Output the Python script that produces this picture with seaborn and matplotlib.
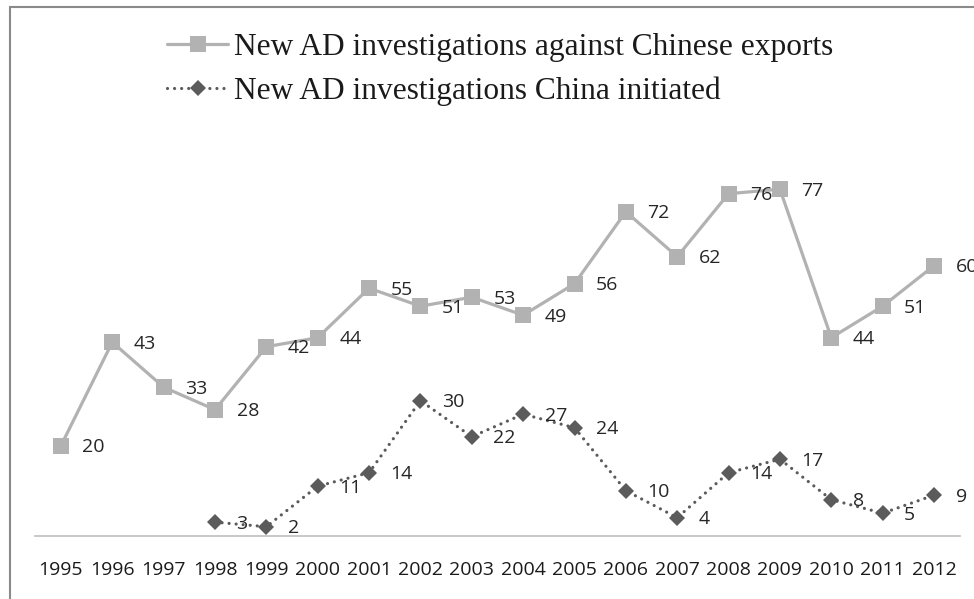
import numpy as np
import pandas as pd
import seaborn as sns
import matplotlib.pyplot as plt
from matplotlib.patches import Rectangle

# data
years = list(range(1995, 2013))
against_china = [20, 43, 33, 28, 42, 44, 55, 51, 53, 49, 56, 72, 62, 76, 77, 44, 51, 60]
china_years = list(range(1998, 2013))
china_initiated = [3, 2, 11, 14, 30, 22, 27, 24, 10, 4, 14, 17, 8, 5, 9]

label1 = 'New AD investigations against Chinese exports'
label2 = 'New AD investigations China initiated'

sns.set_style('white')
plt.rcParams['font.family'] = ['Open Sans', 'DejaVu Sans']

df1 = pd.DataFrame({'pos': [years.index(y) for y in years], 'value': against_china})
df2 = pd.DataFrame({'pos': [years.index(y) for y in china_years], 'value': china_initiated})

fig = plt.figure(figsize=(9.74, 5.99), dpi=100)
ax = fig.add_axes([0.0362, 0.1057, 0.9491, 0.6761])

sns.lineplot(data=df1, x='pos', y='value', ax=ax, color='#b2b2b2', lw=2.3,
             marker='s', markersize=12, markeredgewidth=0, label=label1)
sns.lineplot(data=df2, x='pos', y='value', ax=ax, color='#5b5b5b', lw=2.3,
             linestyle=(0, (0.01, 2.2)), dash_capstyle='round',
             marker='D', markersize=7.8, markeredgewidth=0, label=label2)

# value labels to the right of the markers
for df in (df1, df2):
    for x, v in zip(df['pos'], df['value']):
        ax.annotate(str(v), (x, v), xytext=(15.5, -1), textcoords='offset points',
                    ha='left', va='center', fontsize=14, color='#262626',
                    annotation_clip=False)

ax.set_xlim(-0.5, 17.5)
ax.set_ylim(0, 90)
ax.set_xticks(range(len(years)))
ax.set_xticklabels(years)
ax.set_yticks([])
ax.set_xlabel('')
ax.set_ylabel('')
ax.tick_params(axis='x', length=0, pad=18, labelsize=14, labelcolor='#1a1a1a')
for side in ('left', 'right', 'top'):
    ax.spines[side].set_visible(False)
ax.spines['bottom'].set_color('#bfbfbf')
ax.spines['bottom'].set_linewidth(1.2)

ax.legend(loc='upper left', bbox_to_anchor=(167 / 974, 1 - 33 / 599),
          bbox_transform=fig.transFigure, frameon=False,
          prop={'family': 'Liberation Serif', 'size': 22.6}, labelcolor='#1a1a1a',
          handlelength=1.95, handletextpad=0.2, labelspacing=0.46,
          borderpad=0, borderaxespad=0)

# chart border (right and bottom edges fall outside the image)
fig.patches.append(Rectangle((10 / 974, -0.1), 1.2, 1.1 - 7 / 599, transform=fig.transFigure,
                             fill=False, edgecolor='#8a8a8a', lw=1.5))

fig.savefig('out.png', dpi=100)
